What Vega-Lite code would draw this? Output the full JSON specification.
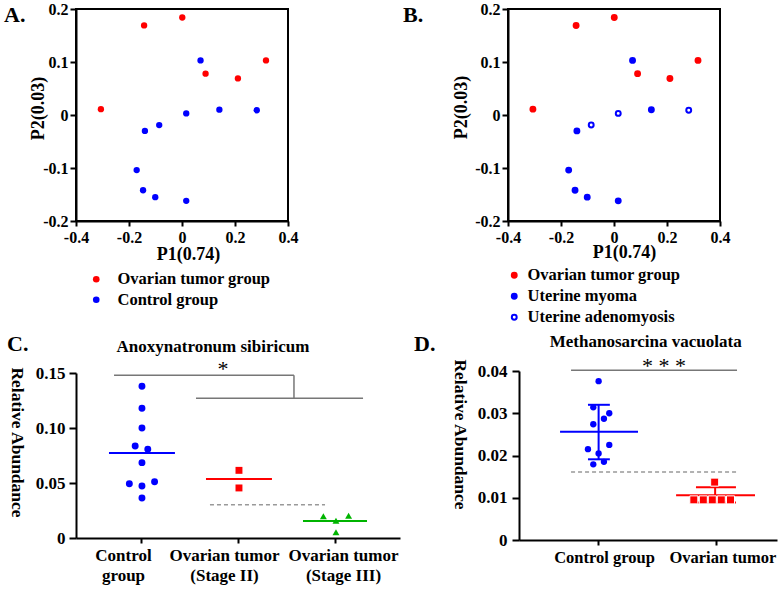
{
  "$schema": "https://vega.github.io/schema/vega-lite/v6.json",
  "padding": {"left": 3, "top": 0, "right": 2, "bottom": 2},
  "background": "white",
  "config": {
    "view": {"stroke": null},
    "font": "Liberation Serif",
    "axis": {"domainColor": "black", "domainWidth": 2, "tickColor": "black", "tickWidth": 2, "grid": false, "labelColor": "black", "titleColor": "black", "labelFont": "Liberation Serif", "titleFont": "Liberation Serif", "labelFontWeight": "bold", "titleFontWeight": "bold", "labelFlush": false, "labelOverlap": false, "labelBound": false},
    "legend": {"labelFont": "Liberation Serif", "labelFontWeight": "bold", "labelColor": "black"},
    "title": {"font": "Liberation Serif", "fontWeight": "bold", "color": "black", "fontSize": 22, "anchor": "start", "frame": "group", "baseline": "alphabetic", "offset": 0}
  },
  "datasets": {
    "pca": [
      {"p1": -0.143, "p2": 0.169, "g1": "Ovarian tumor group", "g2": "Ovarian tumor group"},
      {"p1": 0.001, "p2": 0.184, "g1": "Ovarian tumor group", "g2": "Ovarian tumor group"},
      {"p1": 0.089, "p2": 0.078, "g1": "Ovarian tumor group", "g2": "Ovarian tumor group"},
      {"p1": 0.211, "p2": 0.069, "g1": "Ovarian tumor group", "g2": "Ovarian tumor group"},
      {"p1": 0.317, "p2": 0.103, "g1": "Ovarian tumor group", "g2": "Ovarian tumor group"},
      {"p1": -0.306, "p2": 0.011, "g1": "Ovarian tumor group", "g2": "Ovarian tumor group"},
      {"p1": 0.070, "p2": 0.103, "g1": "Control group", "g2": "Uterine myoma"},
      {"p1": 0.016, "p2": 0.003, "g1": "Control group", "g2": "Uterine adenomyosis"},
      {"p1": 0.141, "p2": 0.010, "g1": "Control group", "g2": "Uterine myoma"},
      {"p1": 0.282, "p2": 0.009, "g1": "Control group", "g2": "Uterine adenomyosis"},
      {"p1": -0.086, "p2": -0.019, "g1": "Control group", "g2": "Uterine adenomyosis"},
      {"p1": -0.140, "p2": -0.030, "g1": "Control group", "g2": "Uterine myoma"},
      {"p1": -0.171, "p2": -0.104, "g1": "Control group", "g2": "Uterine myoma"},
      {"p1": -0.147, "p2": -0.142, "g1": "Control group", "g2": "Uterine myoma"},
      {"p1": -0.101, "p2": -0.155, "g1": "Control group", "g2": "Uterine myoma"},
      {"p1": 0.016, "p2": -0.162, "g1": "Control group", "g2": "Uterine myoma"}
    ],
    "cpts": [
      {"grp": "Control group", "xv": 1.01, "yv": 0.138},
      {"grp": "Control group", "xv": 1.01, "yv": 0.118},
      {"grp": "Control group", "xv": 1.01, "yv": 0.100},
      {"grp": "Control group", "xv": 0.94, "yv": 0.0836},
      {"grp": "Control group", "xv": 1.07, "yv": 0.0806},
      {"grp": "Control group", "xv": 1.01, "yv": 0.0685},
      {"grp": "Control group", "xv": 0.88, "yv": 0.0494},
      {"grp": "Control group", "xv": 1.01, "yv": 0.0473},
      {"grp": "Control group", "xv": 1.14, "yv": 0.0512},
      {"grp": "Control group", "xv": 1.01, "yv": 0.0364},
      {"grp": "Ovarian tumor (Stage II)", "xv": 2.01, "yv": 0.0615},
      {"grp": "Ovarian tumor (Stage II)", "xv": 2.01, "yv": 0.0455},
      {"grp": "Ovarian tumor (Stage III)", "xv": 2.88, "yv": 0.0197},
      {"grp": "Ovarian tumor (Stage III)", "xv": 3.01, "yv": 0.0157},
      {"grp": "Ovarian tumor (Stage III)", "xv": 3.14, "yv": 0.0203},
      {"grp": "Ovarian tumor (Stage III)", "xv": 3.01, "yv": 0.0052}
    ],
    "clines": [
      {"kind": "mean", "grp": "Control group", "xv": 0.67, "xv2": 1.35, "yv": 0.0773},
      {"kind": "mean", "grp": "Ovarian tumor (Stage II)", "xv": 1.67, "xv2": 2.35, "yv": 0.0536},
      {"kind": "mean", "grp": "Ovarian tumor (Stage III)", "xv": 2.67, "xv2": 3.33, "yv": 0.0155},
      {"kind": "dash", "grp": "none", "xv": 1.711, "xv2": 2.897, "yv": 0.0303},
      {"kind": "sig", "grp": "none", "xv": 0.722, "xv2": 2.577, "yv": 0.148},
      {"kind": "sig", "grp": "none", "xv": 1.567, "xv2": 3.289, "yv": 0.127}
    ],
    "cvert": [
      {"xv": 2.577, "yv": 0.127, "yv2": 0.148}
    ],
    "ctext": [
      {"kind": "title", "label": "Anoxynatronum sibiricum", "xv": 1.742, "yv": 0.169},
      {"kind": "star", "label": "*", "xv": 1.845, "yv": 0.147}
    ],
    "dpts": [
      {"grp": "Control group", "xv": 1.005, "yv": 0.0376},
      {"grp": "Control group", "xv": 0.96, "yv": 0.0314},
      {"grp": "Control group", "xv": 1.095, "yv": 0.0300},
      {"grp": "Control group", "xv": 1.05, "yv": 0.0287},
      {"grp": "Control group", "xv": 0.96, "yv": 0.0274},
      {"grp": "Control group", "xv": 0.915, "yv": 0.0215},
      {"grp": "Control group", "xv": 1.095, "yv": 0.0225},
      {"grp": "Control group", "xv": 1.005, "yv": 0.0205},
      {"grp": "Control group", "xv": 0.96, "yv": 0.0179},
      {"grp": "Control group", "xv": 1.05, "yv": 0.0185},
      {"grp": "Ovarian tumor", "xv": 1.986, "yv": 0.0137},
      {"grp": "Ovarian tumor", "xv": 1.81, "yv": 0.0095},
      {"grp": "Ovarian tumor", "xv": 1.89, "yv": 0.0095},
      {"grp": "Ovarian tumor", "xv": 1.966, "yv": 0.0095},
      {"grp": "Ovarian tumor", "xv": 2.042, "yv": 0.0095},
      {"grp": "Ovarian tumor", "xv": 2.12, "yv": 0.0095}
    ],
    "dlines": [
      {"kind": "mean", "grp": "Control group", "xv": 0.679, "xv2": 1.338, "yv": 0.0256},
      {"kind": "cap", "grp": "Control group", "xv": 0.915, "xv2": 1.10, "yv": 0.0320},
      {"kind": "cap", "grp": "Control group", "xv": 0.915, "xv2": 1.10, "yv": 0.0191},
      {"kind": "mean", "grp": "Ovarian tumor", "xv": 1.66, "xv2": 2.327, "yv": 0.0106},
      {"kind": "cap", "grp": "Ovarian tumor", "xv": 1.828, "xv2": 2.166, "yv": 0.0125},
      {"kind": "cap", "grp": "Ovarian tumor", "xv": 1.828, "xv2": 2.166, "yv": 0.0089},
      {"kind": "dash", "grp": "none", "xv": 0.772, "xv2": 2.175, "yv": 0.0161},
      {"kind": "sig", "grp": "none", "xv": 0.772, "xv2": 2.175, "yv": 0.0402}
    ],
    "dvert": [
      {"grp": "Control group", "xv": 1.005, "yv": 0.0191, "yv2": 0.0320},
      {"grp": "Ovarian tumor", "xv": 1.99, "yv": 0.0089, "yv2": 0.0125}
    ],
    "dtext": [
      {"kind": "title", "label": "Methanosarcina vacuolata", "xv": 1.403, "yv": 0.0457},
      {"kind": "star", "label": "* * *", "xv": 1.558, "yv": 0.0395}
    ]
  },
  "spacing": 5,
  "bounds": "full",
  "resolve": {
    "scale": {"color": "independent", "fill": "independent", "stroke": "independent", "shape": "independent"},
    "legend": {"color": "independent", "fill": "independent", "stroke": "independent", "shape": "independent"}
  },
  "vconcat": [
    {
      "spacing": 220,
      "bounds": "flush",
      "resolve": {
        "scale": {"color": "independent", "fill": "independent", "stroke": "independent", "shape": "independent"},
        "legend": {"color": "independent", "fill": "independent", "stroke": "independent", "shape": "independent"}
      },
      "hconcat": [
        {
          "width": 212, "height": 212,
          "view": {"stroke": "black", "strokeWidth": 2},
          "title": {"text": "A.", "dx": -72, "dy": 30},
          "data": {"name": "pca"},
          "mark": {"type": "circle", "size": 40, "opacity": 1},
          "encoding": {
            "x": {"field": "p1", "type": "quantitative", "scale": {"domain": [-0.4, 0.4], "nice": false, "zero": false},
              "axis": {"values": [-0.4, -0.2, 0, 0.2, 0.4], "labelExpr": "datum.value == 0 ? '0' : '' + datum.value", "labelFontSize": 16, "tickSize": 5, "labelPadding": 3, "title": "P1(0.74)", "titleFontSize": 18, "titleX": 112, "titleY": 33, "titleBaseline": "middle", "titleAlign": "center"}},
            "y": {"field": "p2", "type": "quantitative", "scale": {"domain": [-0.2, 0.2], "nice": false, "zero": false},
              "axis": {"values": [-0.2, -0.1, 0, 0.1, 0.2], "labelExpr": "datum.value == 0 ? '0' : '' + datum.value", "labelFontSize": 16, "tickSize": 6, "labelPadding": 2, "title": "P2(0.03)", "titleFontSize": 18, "titleAngle": 270, "titleX": -38, "titleY": 99, "titleBaseline": "middle", "titleAlign": "center"}},
            "color": {"field": "g1", "type": "nominal", "scale": {"domain": ["Ovarian tumor group", "Control group"], "range": ["#ff0000", "#0000ff"]},
              "legend": {"orient": "none", "legendX": 12, "legendY": 262, "direction": "vertical", "title": null, "padding": 0, "labelFontSize": 16.5, "symbolSize": 44, "symbolType": "circle", "rowPadding": 3.5, "labelOffset": 13}}
          }
        },
        {
          "width": 212, "height": 212,
          "view": {"stroke": "black", "strokeWidth": 2},
          "title": {"text": "B.", "dx": -105, "dy": 30},
          "data": {"name": "pca"},
          "mark": {"type": "point", "shape": "circle", "size": 24, "strokeWidth": 2, "opacity": 1},
          "encoding": {
            "x": {"field": "p1", "type": "quantitative", "scale": {"domain": [-0.4, 0.4], "nice": false, "zero": false},
              "axis": {"values": [-0.4, -0.2, 0, 0.2, 0.4], "labelExpr": "datum.value == 0 ? '0' : '' + datum.value", "labelFontSize": 16, "tickSize": 5, "labelPadding": 3, "title": "P1(0.74)", "titleFontSize": 18, "titleX": 116, "titleY": 31, "titleBaseline": "middle", "titleAlign": "center"}},
            "y": {"field": "p2", "type": "quantitative", "scale": {"domain": [-0.2, 0.2], "nice": false, "zero": false},
              "axis": {"values": [-0.2, -0.1, 0, 0.1, 0.2], "labelExpr": "datum.value == 0 ? '0' : '' + datum.value", "labelFontSize": 16, "tickSize": 6, "labelPadding": 2, "title": "P2(0.03)", "titleFontSize": 18, "titleAngle": 270, "titleX": -47, "titleY": 98, "titleBaseline": "middle", "titleAlign": "center"}},
            "fill": {"field": "g2", "type": "nominal", "scale": {"domain": ["Ovarian tumor group", "Uterine myoma", "Uterine adenomyosis"], "range": ["#ff0000", "#0000ff", "#ffffff"]},
              "legend": {"orient": "none", "legendX": -2, "legendY": 258, "direction": "vertical", "title": null, "padding": 0, "labelFontSize": 16.5, "symbolSize": 24, "symbolStrokeWidth": 2, "symbolType": "circle", "rowPadding": 4, "labelOffset": 5}},
            "stroke": {"field": "g2", "type": "nominal", "scale": {"domain": ["Ovarian tumor group", "Uterine myoma", "Uterine adenomyosis"], "range": ["#ff0000", "#0000ff", "#0000ff"]},
              "legend": {"orient": "none", "legendX": -2, "legendY": 258, "direction": "vertical", "title": null, "padding": 0, "labelFontSize": 16.5, "symbolSize": 24, "symbolStrokeWidth": 2, "symbolType": "circle", "rowPadding": 4, "labelOffset": 5}}
          }
        }
      ]
    },
    {
      "spacing": 119,
      "bounds": "flush",
      "center": true,
      "resolve": {
        "scale": {"color": "independent", "fill": "independent", "stroke": "independent", "shape": "independent"},
        "legend": {"color": "independent", "fill": "independent", "stroke": "independent", "shape": "independent"}
      },
      "hconcat": [
        {
          "width": 324, "height": 165,
          "title": {"text": "C.", "dx": -69, "dy": 22},
          "layer": [
            {
              "data": {"name": "clines"},
              "transform": [{"filter": "datum.kind == 'dash'"}],
              "mark": {"type": "rule", "color": "#999999", "strokeWidth": 1.5, "strokeDash": [4, 3]},
              "encoding": {
                "x": {"field": "xv", "type": "quantitative", "scale": {"domain": [0.33, 3.67], "nice": false, "zero": false},
                  "axis": {"values": [1, 2, 3], "labelExpr": "datum.value == 1 ? ['Control', 'group'] : datum.value == 2 ? ['Ovarian tumor', '(Stage II)'] : ['Ovarian tumor', '(Stage III)']", "labelFontSize": 17, "labelLineHeight": 20, "tickSize": 5, "labelPadding": 4, "labelOffset": {"expr": "datum.value == 1 ? -18 : datum.value == 2 ? -14 : 8"}, "title": null}},
                "x2": {"field": "xv2"},
                "y": {"field": "yv", "type": "quantitative", "scale": {"domain": [0, 0.15], "nice": false},
                  "axis": {"values": [0, 0.05, 0.1, 0.15], "labelExpr": "datum.value == 0 ? '0' : format(datum.value, '.2f')", "labelFontSize": 17, "tickSize": 7, "labelPadding": 4, "title": "Relative Abundance", "titleFontSize": 17.5, "titleAngle": 90, "titleX": -60, "titleY": 69, "titleAlign": "center", "titleBaseline": "middle"}}
              }
            },
            {
              "data": {"name": "clines"},
              "transform": [{"filter": "datum.kind == 'sig'"}],
              "mark": {"type": "rule", "color": "#777777", "strokeWidth": 1.5},
              "encoding": {"x": {"field": "xv", "type": "quantitative"}, "x2": {"field": "xv2"}, "y": {"field": "yv", "type": "quantitative"}}
            },
            {
              "data": {"name": "cvert"},
              "mark": {"type": "rule", "color": "#777777", "strokeWidth": 1.5},
              "encoding": {"x": {"field": "xv", "type": "quantitative"}, "y": {"field": "yv", "type": "quantitative"}, "y2": {"field": "yv2"}}
            },
            {
              "data": {"name": "clines"},
              "transform": [{"filter": "datum.kind == 'mean'"}],
              "mark": {"type": "rule", "strokeWidth": 2},
              "encoding": {"x": {"field": "xv", "type": "quantitative"}, "x2": {"field": "xv2"}, "y": {"field": "yv", "type": "quantitative"},
                "color": {"field": "grp", "type": "nominal", "scale": {"domain": ["Control group", "Ovarian tumor (Stage II)", "Ovarian tumor (Stage III)"], "range": ["#0000ff", "#ff0000", "#00b400"]}, "legend": null}}
            },
            {
              "data": {"name": "cpts"},
              "mark": {"type": "point", "filled": true, "opacity": 1, "size": 48},
              "encoding": {"x": {"field": "xv", "type": "quantitative"}, "y": {"field": "yv", "type": "quantitative"},
                "color": {"field": "grp", "type": "nominal", "legend": null},
                "shape": {"field": "grp", "type": "nominal", "scale": {"domain": ["Control group", "Ovarian tumor (Stage II)", "Ovarian tumor (Stage III)"], "range": ["circle", "square", "triangle-up"]}, "legend": null}}
            },
            {
              "data": {"name": "ctext"},
              "transform": [{"filter": "datum.kind == 'title'"}],
              "mark": {"type": "text", "font": "Liberation Serif", "fontWeight": "bold", "fontSize": 17, "align": "center", "baseline": "alphabetic", "color": "black"},
              "encoding": {"x": {"field": "xv", "type": "quantitative"}, "y": {"field": "yv", "type": "quantitative"}, "text": {"field": "label"}}
            },
            {
              "data": {"name": "ctext"},
              "transform": [{"filter": "datum.kind == 'star'"}],
              "mark": {"type": "text", "font": "Liberation Serif", "fontSize": 22, "align": "center", "baseline": "alphabetic", "color": "black"},
              "encoding": {"x": {"field": "xv", "type": "quantitative"}, "y": {"field": "yv", "type": "quantitative"}, "text": {"field": "label"}}
            }
          ]
        },
        {
          "width": 258, "height": 169,
          "title": {"text": "D.", "dx": -105, "dy": 27},
          "layer": [
            {
              "data": {"name": "dlines"},
              "transform": [{"filter": "datum.kind == 'dash'"}],
              "mark": {"type": "rule", "color": "#999999", "strokeWidth": 1.5, "strokeDash": [4, 3]},
              "encoding": {
                "x": {"field": "xv", "type": "quantitative", "scale": {"domain": [0.332, 2.513], "nice": false, "zero": false},
                  "axis": {"values": [1, 2], "labelExpr": "datum.value == 1 ? 'Control group' : 'Ovarian tumor'", "labelFontSize": 16.5, "tickSize": 5, "labelPadding": 4, "labelOffset": 6, "title": null}},
                "x2": {"field": "xv2"},
                "y": {"field": "yv", "type": "quantitative", "scale": {"domain": [0, 0.04], "nice": false},
                  "axis": {"values": [0, 0.01, 0.02, 0.03, 0.04], "labelExpr": "datum.value == 0 ? '0' : format(datum.value, '.2f')", "labelFontSize": 17, "tickSize": 7, "labelPadding": 5, "title": "Relative Abundance", "titleFontSize": 17.5, "titleAngle": 90, "titleX": -60, "titleY": 63, "titleAlign": "center", "titleBaseline": "middle"}}
              }
            },
            {
              "data": {"name": "dlines"},
              "transform": [{"filter": "datum.kind == 'sig'"}],
              "mark": {"type": "rule", "color": "#777777", "strokeWidth": 1.5},
              "encoding": {"x": {"field": "xv", "type": "quantitative"}, "x2": {"field": "xv2"}, "y": {"field": "yv", "type": "quantitative"}}
            },
            {
              "data": {"name": "dvert"},
              "mark": {"type": "rule", "strokeWidth": 2},
              "encoding": {"x": {"field": "xv", "type": "quantitative"}, "y": {"field": "yv", "type": "quantitative"}, "y2": {"field": "yv2"},
                "color": {"field": "grp", "type": "nominal", "scale": {"domain": ["Control group", "Ovarian tumor"], "range": ["#0000ff", "#ff0000"]}, "legend": null}}
            },
            {
              "data": {"name": "dlines"},
              "transform": [{"filter": "datum.kind == 'mean' || datum.kind == 'cap'"}],
              "mark": {"type": "rule", "strokeWidth": 2},
              "encoding": {"x": {"field": "xv", "type": "quantitative"}, "x2": {"field": "xv2"}, "y": {"field": "yv", "type": "quantitative"},
                "color": {"field": "grp", "type": "nominal", "legend": null}}
            },
            {
              "data": {"name": "dpts"},
              "transform": [{"filter": "datum.grp == 'Control group'"}],
              "mark": {"type": "circle", "opacity": 1, "size": 40},
              "encoding": {"x": {"field": "xv", "type": "quantitative"}, "y": {"field": "yv", "type": "quantitative"},
                "color": {"field": "grp", "type": "nominal", "legend": null}}
            },
            {
              "data": {"name": "dpts"},
              "transform": [{"filter": "datum.grp == 'Ovarian tumor'"}],
              "mark": {"type": "square", "opacity": 1, "size": 64, "stroke": "white", "strokeWidth": 1},
              "encoding": {"x": {"field": "xv", "type": "quantitative"}, "y": {"field": "yv", "type": "quantitative"},
                "fill": {"field": "grp", "type": "nominal", "scale": {"domain": ["Control group", "Ovarian tumor"], "range": ["#0000ff", "#ff0000"]}, "legend": null}}
            },
            {
              "data": {"name": "dtext"},
              "transform": [{"filter": "datum.kind == 'title'"}],
              "mark": {"type": "text", "font": "Liberation Serif", "fontWeight": "bold", "fontSize": 17, "align": "center", "baseline": "alphabetic", "color": "black"},
              "encoding": {"x": {"field": "xv", "type": "quantitative"}, "y": {"field": "yv", "type": "quantitative"}, "text": {"field": "label"}}
            },
            {
              "data": {"name": "dtext"},
              "transform": [{"filter": "datum.kind == 'star'"}],
              "mark": {"type": "text", "font": "Liberation Serif", "fontSize": 22, "align": "center", "baseline": "alphabetic", "color": "black"},
              "encoding": {"x": {"field": "xv", "type": "quantitative"}, "y": {"field": "yv", "type": "quantitative"}, "text": {"field": "label"}}
            }
          ]
        }
      ]
    }
  ]
}
